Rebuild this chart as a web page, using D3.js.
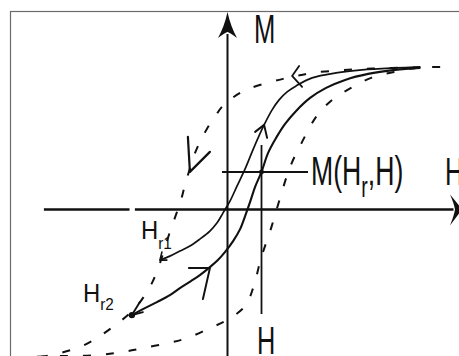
<!DOCTYPE html>
<html>
<head>
<meta charset="utf-8">
<script src="https://cdn.jsdelivr.net/npm/d3@7"></script>
<style>
  html, body { margin: 0; padding: 0; background: #fff; }
  svg { display: block; }
  text { font-family: "Liberation Sans", Arial, sans-serif; fill: #111; }
</style>
</head>
<body>
<svg id="chart" width="459" height="356"></svg>
<script>
// Major hysteresis loop: descending (upper) branch, field H and magnetisation M
const majorUpperH = [-9.38, -8.38, -7.28, -6.38, -5.48, -4.98, -4.53, -4.13, -3.78, -3.48, -3.23, -3.03, -2.78, -2.53, -2.28, -2.13, -1.93, -1.68, -1.38, -1.03, -0.63, -0.28, 0.18, 0.63, 1.18, 2.18, 2.78, 3.48, 4.23, 5.23, 6.23, 7.23, 8.23, 9.43, 10.63];
const majorUpperM = [-7.38, -7.18, -6.83, -6.33, -5.68, -5.28, -4.83, -4.28, -3.68, -2.98, -2.23, -1.58, -0.83, -0.13, 0.63, 1.23, 1.88, 2.68, 3.38, 4.03, 4.63, 5.13, 5.53, 5.83, 6.08, 6.38, 6.53, 6.68, 6.83, 6.93, 7.00, 7.05, 7.08, 7.10, 7.13];

// Major loop: ascending (lower) branch
const majorLowerH = [-10.38, -8.38, -6.48, -5.28, -4.23, -2.98, -2.03, -0.88, -0.03, 0.88, 1.28, 1.68, 2.18, 2.63, 3.13, 3.73, 4.43, 5.23, 6.18, 7.18, 8.33, 9.43, 10.63];
const majorLowerM = [-7.38, -7.33, -7.28, -7.13, -6.93, -6.68, -6.43, -5.93, -5.53, -4.83, -3.93, -2.43, -0.93, 0.58, 2.13, 3.38, 4.63, 5.48, 6.08, 6.58, 6.88, 7.08, 7.13];

// First-order reversal curve starting at Hr1
const forc1H = [-3.38, -2.88, -2.38, -1.88, -1.38, -0.88, -0.53, -0.23, 0.13, 0.48, 0.88, 1.23, 1.53, 1.83, 2.23, 2.58, 2.98, 3.43, 4.23, 5.43, 6.73, 8.43, 9.63];
const forc1M = [-2.53, -2.33, -2.08, -1.83, -1.48, -1.08, -0.68, -0.18, 0.43, 1.18, 2.03, 2.88, 3.58, 4.23, 4.98, 5.48, 5.88, 6.18, 6.58, 6.83, 6.98, 7.08, 7.13];

// First-order reversal curve starting at Hr2
const forc2H = [-4.78, -4.13, -3.53, -2.88, -2.38, -1.83, -1.38, -0.88, -0.48, -0.13, 0.28, 0.63, 0.88, 1.13, 1.38, 1.70, 2.03, 2.43, 2.88, 3.43, 4.13, 4.93, 5.88, 7.03, 8.38, 9.63];
const forc2M = [-5.28, -4.93, -4.63, -4.28, -3.93, -3.58, -3.28, -2.88, -2.53, -2.13, -1.58, -0.98, -0.33, 0.38, 1.13, 1.88, 2.83, 3.58, 4.28, 4.93, 5.58, 6.08, 6.48, 6.78, 6.98, 7.08];

// Reversal fields and the sampled point M(Hr, H)
const reversalH = [-3.38, -4.78];
const reversalM = [-2.53, -5.28];
const reversalLabels = ["1", "2"];
const sampleH = 1.70;
const sampleM = 1.875;

// Axis labels
const axisLabelM = "M";
const axisLabelH = "H";
const pointLabel = ["M(H", "r", ",H)"];

const svg = d3.select("#chart");
const W = 459, Hpx = 356;

const x = d3.scaleLinear().domain([-10, 10]).range([27.5, 427.5]);
const y = d3.scaleLinear().domain([-10, 10]).range([409.5, 9.5]);

const zip = (a, b) => a.map((v, i) => [v, b[i]]);
const line = d3.line().x(d => x(d[0])).y(d => y(d[1])).curve(d3.curveCatmullRom.alpha(0.5));

// frame
svg.append("rect").attr("x", 10.5).attr("y", 11.5).attr("width", 470).attr("height", 370)
  .attr("fill", "none").attr("stroke", "#6b6b6b").attr("stroke-width", 1.2);

const ink = "#111";

// vertical M axis
svg.append("line").attr("x1", x(0)).attr("x2", x(0)).attr("y1", 34).attr("y2", Hpx + 2)
  .attr("stroke", ink).attr("stroke-width", 2);
svg.append("path")
  .attr("d", `M${x(0)},12 Q${x(0)+3},26 ${x(0)+9.5},38 Q${x(0)+3},33 ${x(0)},32 Q${x(0)-3},33 ${x(0)-9.5},38 Q${x(0)-3},26 ${x(0)},12Z`)
  .attr("fill", ink);

// horizontal H axis (with a small break on the negative side)
const hAxisSegments = [[-9.18, -4.9], [-4.63, 11.3]];
hAxisSegments.forEach(s => {
  svg.append("line").attr("x1", x(s[0])).attr("x2", x(s[1])).attr("y1", y(0)).attr("y2", y(0))
    .attr("stroke", ink).attr("stroke-width", 2.6);
});
{
  const ay = y(0);
  svg.append("path")
    .attr("d", `M462,${ay} Q456,${ay-8} 450,${ay-15} Q454,${ay-6} 455,${ay} Q454,${ay+6} 450,${ay+16} Q456,${ay+8} 462,${ay}Z`)
    .attr("fill", ink);
}

// major loop, dashed
const dash = "8,15";
svg.append("path").attr("d", line(zip(majorUpperH, majorUpperM)))
  .attr("fill", "none").attr("stroke", ink).attr("stroke-width", 2).attr("stroke-dasharray", dash);
svg.append("path").attr("d", line(zip(majorLowerH, majorLowerM)))
  .attr("fill", "none").attr("stroke", ink).attr("stroke-width", 2).attr("stroke-dasharray", dash)
  .attr("stroke-dashoffset", 6);

// reversal curves, solid
svg.append("path").attr("d", line(zip(forc1H, forc1M)))
  .attr("fill", "none").attr("stroke", ink).attr("stroke-width", 1.7);
svg.append("path").attr("d", line(zip(forc2H, forc2M)))
  .attr("fill", "none").attr("stroke", ink).attr("stroke-width", 2.1);

// guide lines through M(Hr, H)
svg.append("line").attr("x1", x(sampleH)).attr("x2", x(sampleH)).attr("y1", 145).attr("y2", 314)
  .attr("stroke", ink).attr("stroke-width", 1.8);
svg.append("line").attr("x1", 222).attr("x2", 308).attr("y1", y(sampleM)).attr("y2", y(sampleM))
  .attr("stroke", ink).attr("stroke-width", 1.8);
svg.append("circle").attr("cx", x(sampleH)).attr("cy", y(sampleM)).attr("r", 2.4).attr("fill", ink);

// reversal point Hr2 marker
svg.append("circle").attr("cx", x(reversalH[1])).attr("cy", y(reversalM[1])).attr("r", 3.2).attr("fill", ink);

// open arrowheads: tip and two arm ends, in data units
const arrows = [
  { tip: [3.23, 6.68], a: [3.58, 7.18], b: [3.73, 6.13], w: 1.8 },   // along the descending branch
  { tip: [-1.88, 1.88], a: [-1.98, 3.63], b: [-0.88, 2.88], w: 2.2 }, // descending branch, left
  { tip: [1.83, 4.23], a: [1.38, 3.88], b: [1.98, 3.58], w: 2.0 },    // rising along Hr1 curve
  { tip: [-0.88, -2.93], a: [-1.93, -2.93], b: [-1.23, -4.48], w: 2.0 }, // rising along Hr2 curve
  { tip: [-3.38, -2.53], a: [-3.28, -2.13], b: [-3.03, -2.53], w: 1.6 }, // arriving at Hr1
  { tip: [-4.78, -5.28], a: [-4.38, -4.63], b: [-4.23, -5.13], w: 1.9 }  // arriving at Hr2
];
arrows.forEach(ar => {
  svg.append("path")
    .attr("d", `M${x(ar.a[0])},${y(ar.a[1])} L${x(ar.tip[0])},${y(ar.tip[1])} L${x(ar.b[0])},${y(ar.b[1])}`)
    .attr("fill", "none").attr("stroke", ink).attr("stroke-width", ar.w)
    .attr("stroke-linecap", "round").attr("stroke-linejoin", "round");
});

// condensed labels
function label(txt, px, py, size, sx) {
  return svg.append("text").attr("transform", `translate(${px},${py}) scale(${sx},1)`)
    .attr("font-size", size).text(txt);
}
label(axisLabelM, 254, 43, 40, 0.64);
label(axisLabelH, 445, 185, 39, 0.65);
label(axisLabelH, 257, 354, 39, 0.65);

{
  const t = svg.append("text").attr("transform", `translate(311,185) scale(0.65,1)`).attr("font-size", 41);
  t.append("tspan").text(pointLabel[0]);
  t.append("tspan").attr("dy", 12).attr("font-size", 30).text(pointLabel[1]);
  t.append("tspan").attr("dy", -12).text(pointLabel[2]);
}

// Hr labels
const hrPos = [[141, 238.5, 10], [83, 302, 8]];
reversalLabels.forEach((lab, i) => {
  const p = hrPos[i];
  const t = svg.append("text").attr("transform", `translate(${p[0]},${p[1]}) scale(0.9,1)`).attr("font-size", 26.5);
  t.append("tspan").text("H");
  t.append("tspan").attr("dy", p[2]).attr("font-size", 17).text("r" + lab);
});
</script>
</body>
</html>
